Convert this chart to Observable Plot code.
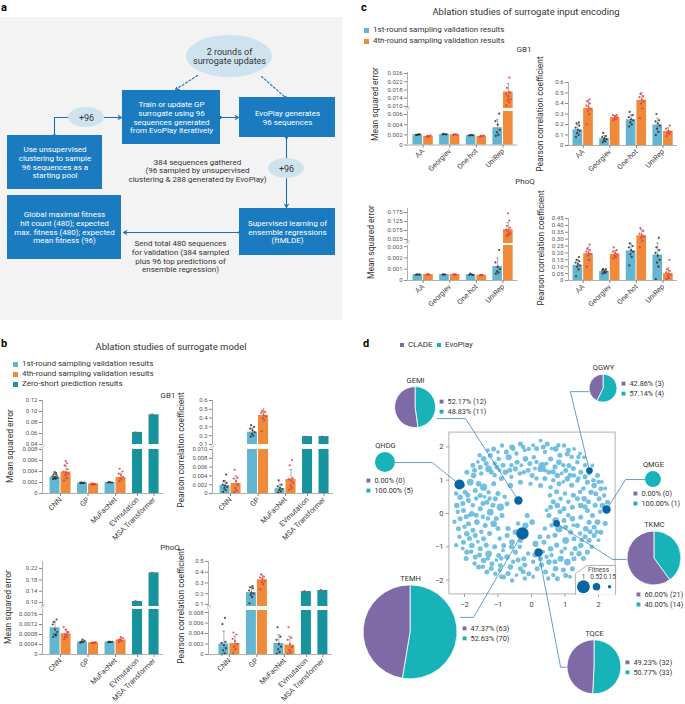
<!DOCTYPE html>
<html><head><meta charset="utf-8">
<script src="https://cdn.jsdelivr.net/npm/d3@7"></script>
<script src="https://cdn.jsdelivr.net/npm/@observablehq/plot@0.6"></script>
<style>
body{margin:0;background:#fff;font-family:Roboto,Inter,"Noto Sans",sans-serif}
#fig{position:relative;width:685px;height:704px;overflow:hidden;background:#fff}
</style></head><body><div id="fig"></div>
<script>
// ================= DATA =================
const C1 = "#62b6d1", C4 = "#ef8a3a", CZ = "#17939d";
const DOT1 = "#2e2e2e", DOT4 = "#ee3440";
const PURPLE = "#7d6aa6", TEAL = "#17b3b8";

// ---- panel b
const bCats = ["CNN","GP","MuFacNet","EVmutation","MSA Transformer"];
const bKinds = ["pair","pair","pair","single","single"];
const bLegend = ["1st-round sampling validation results","4th-round sampling validation results","Zero-short prediction results"];

const bGb1MseR1 = [0.0030,0.0019,0.0020,null,null];
const bGb1MseR4 = [0.0039,0.0017,0.0029,null,null];
const bGb1MseZS = [null,null,null,0.062,0.094];
const bGb1MseD1 = [[0.0026,0.0027,0.0028,0.0029,0.0030,0.0031,0.0033,0.0035,0.0037,0.0039],[0.0019,0.0019,0.0020,0.0020,0.0019,0.0020],[0.0020,0.0020,0.0021,0.0020],[],[]];
const bGb1MseD4 = [[0.0024,0.0028,0.0033,0.0036,0.0038,0.0040,0.0044,0.0051,0.0055,0.0059],[0.0016,0.0017,0.0018,0.0017,0.0016,0.0018],[0.0023,0.0025,0.0028,0.0030,0.0033,0.0036,0.0040,0.0045],[],[]];
const bGb1MseDZ = [[],[],[],[0.062],[0.095]];

const bGb1PccR1 = [0.0018,0.24,0.0011,null,null];
const bGb1PccR4 = [0.0023,0.43,0.0032,null,null];
const bGb1PccZS = [null,null,null,0.19,0.19];
const bGb1PccD1 = [[0.0004,0.0008,0.0012,0.0015,0.0018,0.0020,0.0024,0.0028,0.0043],[0.19,0.20,0.22,0.24,0.26,0.28,0.30,0.32],[0.0002,0.0005,0.0008,0.0010,0.0013,0.0016,0.0020,0.0030],[],[]];
const bGb1PccD4 = [[0.0003,0.0006,0.0012,0.0020,0.0028,0.0034,0.0036,0.0054],[0.25,0.38,0.40,0.42,0.44,0.46,0.47,0.48],[0.0009,0.0013,0.0018,0.0025,0.0030,0.0033,0.0035,0.0064,0.0076],[],[]];
const bGb1PccDZ = [[],[],[],[0.19],[0.19]];

const bPhoqMseR1 = [0.00107,0.00050,0.00050,null,null];
const bPhoqMseR4 = [0.00083,0.00047,0.00058,null,null];
const bPhoqMseZS = [null,null,null,0.104,0.205];
const bPhoqMseD1 = [[0.0007,0.00075,0.0008,0.0009,0.0010,0.0012,0.0014,0.0013,0.0008],[0.00048,0.0005,0.00052,0.00055,0.0006,0.00049],[0.00049,0.0005,0.00052,0.00051,0.0005],[],[]];
const bPhoqMseD4 = [[0.0006,0.0007,0.0008,0.0009,0.0010,0.0011,0.0009,0.0007,0.0008],[0.00045,0.00047,0.00048,0.0005,0.00046],[0.0005,0.00055,0.0006,0.00065,0.0007,0.00058],[],[]];
const bPhoqMseDZ = [[],[],[],[0.105],[0.206]];

const bPhoqPccR1 = [0.0020,0.21,0.0021,null,null];
const bPhoqPccR4 = [0.0021,0.33,0.0018,null,null];
const bPhoqPccZS = [null,null,null,0.22,0.23];
const bPhoqPccD1 = [[0.0000,0.0002,0.0008,0.0012,0.0018,0.0022,0.0024,0.0058,0.0070],[0.11,0.17,0.19,0.20,0.21,0.23,0.25,0.26,0.27],[0.0001,0.0005,0.0010,0.0015,0.0020,0.0028,0.0034,0.0052],[],[]];
const bPhoqPccD4 = [[0.0002,0.0010,0.0015,0.0020,0.0025,0.0030,0.0038,0.0042],[0.24,0.29,0.31,0.32,0.34,0.35,0.36,0.38],[0.0001,0.0004,0.0008,0.0014,0.0020,0.0028,0.0032,0.0052],[],[]];
const bPhoqPccDZ = [[],[],[],[0.225],[0.235]];

// ---- panel c
const cCats = ["AA","Georgiev","One-hot","UniRep"];
const cKinds = ["pair","pair","pair","pair"];
const cLegend = ["1st-round sampling validation results","4th-round sampling validation results"];

const cGb1MseR1 = [0.0020,0.0021,0.0019,0.0034];
const cGb1MseR4 = [0.0017,0.0020,0.0017,0.0170];
const cGb1MseD1 = [[0.0020,0.0021,0.0020,0.0021,0.0020],[0.0021,0.0021,0.0022,0.0021],[0.0019,0.0020,0.0019,0.0019],[0.0018,0.0020,0.0025,0.0030,0.0040,0.0047,0.0062]];
const cGb1MseD4 = [[0.0016,0.0017,0.0018,0.0019,0.0017],[0.0020,0.0021,0.0021,0.0020],[0.0016,0.0017,0.0018,0.0019],[0.0105,0.012,0.013,0.0135,0.015,0.016,0.017,0.019,0.024]];

const cGb1PccR1 = [0.15,0.065,0.245,0.195];
const cGb1PccR4 = [0.355,0.265,0.43,0.135];
const cGb1PccD1 = [[0.08,0.10,0.12,0.14,0.15,0.17,0.19,0.21,0.22],[0.03,0.04,0.05,0.06,0.07,0.08,0.09,0.12],[0.18,0.20,0.22,0.24,0.25,0.27,0.29,0.32],[0.10,0.13,0.16,0.19,0.21,0.23,0.24,0.30]];
const cGb1PccD4 = [[0.20,0.30,0.33,0.35,0.37,0.38,0.40,0.42,0.44],[0.24,0.25,0.26,0.27,0.28,0.29,0.29],[0.26,0.35,0.40,0.42,0.44,0.46,0.47,0.49],[0.09,0.11,0.12,0.13,0.14,0.16,0.19]];

const cPhoqMseR1 = [0.00052,0.00053,0.00051,0.00125];
const cPhoqMseR4 = [0.00052,0.00053,0.00047,0.080];
const cPhoqMseD1 = [[0.0005,0.00052,0.00055,0.00053],[0.00052,0.00053,0.00055],[0.0005,0.00052,0.0006,0.00049],[0.0006,0.0007,0.0008,0.0010,0.0012,0.0016,0.0027]];
const cPhoqMseD4 = [[0.0005,0.00053,0.00056],[0.00052,0.00054,0.00055],[0.00045,0.00048,0.0005],[0.045,0.05,0.055,0.06,0.07,0.08,0.09,0.10,0.13,0.17]];

const cPhoqPccR1 = [0.11,0.065,0.215,0.185];
const cPhoqPccR4 = [0.195,0.19,0.325,0.05];
const cPhoqPccD1 = [[0.03,0.08,0.10,0.11,0.12,0.13,0.14,0.15,0.17],[0.05,0.055,0.06,0.065,0.07,0.075,0.08,0.085],[0.11,0.17,0.19,0.21,0.22,0.24,0.25,0.27],[0.01,0.10,0.13,0.15,0.18,0.20,0.22,0.24,0.31]];
const cPhoqPccD4 = [[0.10,0.15,0.18,0.19,0.20,0.21,0.22,0.23,0.26],[0.16,0.17,0.18,0.19,0.20,0.21,0.22,0.24],[0.24,0.29,0.31,0.32,0.33,0.34,0.36,0.38],[0.01,0.02,0.03,0.04,0.05,0.06,0.07,0.08,0.15]];

// ---- panel d
const pieNames = ["GEMI","QGWY","QHDG","QMGE","TKMC","TEMH","TQCE"];
const cladeCounts = [12,3,0,0,21,63,32];
const evoCounts = [11,4,5,1,14,70,33];
const cladePct = ["52.17","42.86","0.00","0.00","60.00","47.37","49.23"];
const evoPct = ["48.83","57.14","100.00","100.00","40.00","52.63","50.77"];
const hiX = [-0.39,1.73,-2.15,2.24,0.75,-0.27,0.21];
const hiY = [0.39,1.29,0.87,0.12,-0.30,-0.60,-1.17];
const hiFit = [0.6,0.45,0.75,0.6,0.45,0.95,0.6];
const fitLegendVals = [1,0.52,0.15];
const dTicks = [-2,-1,0,1,2];
const scatterPts = [
[-1.13,1.94,.3],[-0.88,2.04,.25],[-0.58,1.99,.35],[-0.33,2.09,.3],[-0.08,1.94,.25],[0.27,2.19,.2],[0.47,2.09,.3],[0.72,1.94,.35],[0.97,2.04,.25],[1.07,1.79,.3],[1.27,1.94,.2],
[-1.43,1.64,.35],[-1.23,1.74,.3],[-0.98,1.64,.25],[-0.68,1.69,.4],[-0.43,1.54,.3],[-0.18,1.64,.35],[0.07,1.69,.25],[0.32,1.44,.5],[0.57,1.64,.3],[0.82,1.54,.35],[1.12,1.44,.3],[1.37,1.54,.25],[1.57,1.69,.2],
[-1.53,1.39,.3],[-1.28,1.34,.45],[-1.03,1.39,.3],[-0.78,1.24,.35],[-0.48,1.34,.3],[-0.23,1.24,.25],[0.02,1.14,.3],[0.27,1.34,.4],[0.52,1.24,.3],[0.77,1.14,.35],[1.02,1.29,.3],[1.27,1.14,.25],[1.47,1.24,.3],[1.82,1.44,.2],[1.97,1.14,.3],
[-0.33,0.94,.3],[-0.03,0.89,.25],[0.27,0.84,.3],[0.57,0.79,.25],[0.82,0.89,.3],[1.07,1.04,.35],[1.37,0.99,.25],[1.67,0.94,.3],[1.87,0.84,.35],[2.07,0.74,.3],[2.17,0.54,.25],[2.02,0.44,.3],[2.27,0.34,.3],[2.12,0.24,.35],
[-1.93,1.24,.3],[-1.73,1.14,.35],[-1.83,0.94,.45],[-1.58,0.89,.35],[-1.43,0.79,.5],[-1.68,0.69,.3],[-1.98,0.64,.3],[-2.13,0.49,.35],[-1.88,0.39,.3],[-1.53,0.54,.3],[-1.28,0.64,.25],[-1.08,0.44,.3],[-1.33,0.34,.3],
[-2.23,0.24,.35],[-2.03,0.09,.3],[-1.78,-0.01,.35],[-1.53,0.14,.3],[-1.23,0.04,.45],[-0.93,0.19,.5],[-0.73,0.29,.3],[-0.88,-0.06,.3],[-2.13,-0.16,.3],[-1.88,-0.31,.3],[-1.63,-0.26,.35],[-1.38,-0.36,.3],[-1.13,-0.31,.45],
[-2.18,-0.46,.3],[-1.93,-0.61,.35],[-1.68,-0.66,.3],[-1.43,-0.76,.3],[-2.03,-0.86,.3],[-1.78,-0.96,.35],[-1.53,-1.06,.3],[-1.28,-1.21,.45],[-1.93,-1.16,.3],[-1.68,-1.31,.3],[-1.43,-1.41,.35],[-1.18,-1.51,.3],
[-1.58,-1.61,.3],[-1.33,-1.76,.3],[-1.08,-1.81,.25],[-0.83,-1.91,.3],[-0.58,-2.01,.25],[-0.63,0.84,.35],[-1.13,0.89,.3],
[-0.73,-0.66,.3],[-0.48,-0.56,.35],[-0.18,-0.36,.4],[0.02,-0.26,.35],[-0.13,-0.06,.3],[-0.83,-0.96,.3],[-0.58,-0.86,.35],[-0.33,-0.81,.3],[-0.98,-1.26,.3],[-0.73,-1.31,.35],[-0.48,-1.16,.3],[-0.23,-1.36,.3],
[-0.93,-1.56,.3],[-0.63,-1.61,.35],[-0.33,-1.66,.3],[-0.08,-1.81,.3],[0.12,-0.91,.4],[0.37,-0.86,.3],[0.57,-1.06,.35],[0.27,-1.36,.3],[0.52,-1.46,.35],[0.17,-1.66,.3],[0.42,-1.76,.3],[0.72,-1.66,.35],[0.87,-1.36,.4],
[0.77,-1.96,.3],[1.02,-1.86,.3],[1.22,-1.66,.3],[1.07,-1.46,.45],[1.27,-1.36,.3],[1.42,-1.21,.35],[1.67,-1.16,.3],[1.47,-0.96,.35],[1.72,-0.81,.3],[1.87,-0.66,.3],[1.27,-0.76,.3],[1.02,-0.81,.45],[1.17,-0.56,.3],
[0.57,0.19,.3],[0.77,0.24,.35],[0.97,0.14,.3],[1.22,0.19,.3],[1.47,0.24,.35],[1.67,0.09,.3],[1.82,-0.06,.3],[1.97,-0.26,.35],[1.72,-0.26,.3],[1.47,-0.11,.3],[1.22,-0.16,.35],[0.97,-0.21,.3],[0.72,-0.21,.45],
[0.52,-0.06,.3],[1.37,-0.36,.3],[1.62,-0.46,.35],[1.87,-0.41,.3],[2.07,-0.56,.3],[0.82,-0.46,.5],[1.02,-0.41,.3],[1.37,0.44,.3],[1.57,0.44,.35],[1.77,0.64,.3],[1.92,0.59,.3],[0.87,0.44,.25],
[-1.0,1.85,.2],[-0.75,1.85,.3],[-0.45,1.8,.25],[-0.2,1.9,.2],[0.15,1.95,.3],[0.4,1.85,.25],[0.6,1.95,.2],[0.85,1.75,.3],[1.2,1.7,.25],[1.45,1.8,.2],[-1.6,1.55,.2],[-1.35,1.5,.3],[-1.1,1.5,.25],[-0.85,1.45,.3],
[-0.6,1.45,.25],[-0.3,1.45,.2],[-0.05,1.5,.3],[0.15,1.55,.25],[0.45,1.5,.2],[0.7,1.4,.3],[0.95,1.45,.25],[1.25,1.35,.3],[1.6,1.45,.25],[1.72,1.2,.2],[-1.7,1.3,.3],[-1.1,1.15,.25],[-0.9,1.05,.3],[-0.6,1.1,.25],
[0.15,1.05,.25],[0.4,1.05,.3],[0.65,1.0,.25],[0.95,0.95,.2],[1.2,0.85,.3],[1.55,0.75,.25],[1.8,0.65,.2],[2.0,0.95,.25],[2.2,0.75,.2],[-2.05,0.85,.25],[-1.9,0.55,.3],[-1.65,0.45,.25],[-1.4,0.5,.2],[-1.15,0.25,.3],
[-2.2,0.05,.25],[-1.95,-0.1,.3],[-1.45,-0.1,.25],[-1.05,-0.15,.3],[-2.0,-0.4,.25],[-1.75,-0.5,.3],[-1.5,-0.55,.25],[-1.25,-0.6,.3],[-2.15,-0.7,.25],[-1.85,-0.75,.3],[-1.6,-0.85,.2],[-1.35,-0.95,.3],[-2.05,-1.05,.2],
[-1.8,-1.15,.25],[-1.55,-1.25,.3],[-1.3,-1.35,.25],[-1.05,-1.4,.2],[-1.45,-1.6,.25],[-1.2,-1.65,.3],[-0.95,-1.7,.25],[-0.7,-1.8,.3],[-0.45,-1.85,.2],[-0.2,-1.95,.25],[0.05,-1.9,.2],[-0.6,-1.0,.3],[-0.35,-1.0,.25],
[-0.85,-1.1,.2],[-0.55,-1.45,.25],[-0.2,-1.55,.3],[0.05,-1.45,.25],[0.3,-1.55,.3],[0.6,-1.25,.25],[0.35,-1.15,.2],[0.65,-1.85,.25],[0.95,-1.7,.3],[1.15,-1.9,.2],[1.55,-1.35,.3],[1.8,-1.0,.25],[1.6,-0.7,.3],
[1.45,-0.6,.25],[2.0,-0.8,.2],[1.9,0.25,.3],[2.05,0.05,.25],[1.6,0.2,.3],[1.1,0.35,.25],[0.65,0.35,.3],[0.45,0.1,.2],[1.1,-0.05,.25],[0.85,0.05,.3],[0.6,-0.35,.25],[1.25,-0.35,.2],
[-1.75,1.45,.3],[-1.5,1.2,.25],[-1.2,1.25,.3],[-0.95,1.3,.2],[-0.65,1.3,.3],[-0.35,1.2,.25],[-0.1,1.3,.3],[0.1,1.35,.2],[0.4,1.3,.25],[0.65,1.25,.3],[0.9,1.2,.2],[1.15,1.15,.3],[1.4,1.05,.25],[1.6,1.1,.3],
[1.85,1.0,.25],[2.1,0.95,.2],[-0.55,1.95,.3],[-0.25,2.0,.25],[0.05,2.05,.2],[0.35,2.0,.3],[0.8,2.05,.25],[1.1,1.9,.3],[1.4,1.7,.25],[-1.3,1.9,.2],[-1.55,1.75,.25],
[-2.25,0.6,.25],[-2.05,0.3,.3],[-1.75,0.25,.25],[-1.45,0.3,.3],[-1.25,0.45,.25],[-1.0,0.6,.3],[-0.8,0.5,.25],[-2.3,-0.25,.25],[-1.65,-0.05,.3],[-1.3,-0.15,.25],[-1.0,-0.45,.3],[-2.25,-0.95,.25],[-1.95,-1.35,.3],
[-1.7,-1.5,.25],[-1.85,-0.05,.2],[-0.95,-0.75,.25],[-0.7,-0.45,.3],[-0.4,-0.3,.25],[-1.1,-1.0,.3],[-0.9,-1.35,.25],[-0.4,-1.4,.3],[-0.1,-1.2,.25],[0.1,-1.25,.3],[0.45,-1.3,.25],[0.25,-0.7,.3],[0.5,-0.7,.25],
[0.75,-0.95,.3],[0.9,-1.15,.25],[0.7,-1.45,.3],[0.5,-1.95,.25],[-0.25,-1.75,.3],[-0.9,-1.9,.25],[0.55,0.55,.25],[0.75,0.65,.3],[1.0,0.6,.25],[1.25,0.55,.3],[1.45,0.65,.25],[1.7,0.35,.3],[2.25,0.1,.25],
[2.2,-0.3,.3],[1.95,-0.55,.25],[1.75,-0.55,.3],[1.5,-0.8,.25],[1.3,-1.05,.3],[1.2,-1.2,.25],[1.0,-1.05,.2],[0.7,-0.65,.3],[0.4,-0.45,.25]
];

// ---- panel a text
const flowBoxes = [
 {x1:122,y1:90,x2:220,y2:144,text:"Train or update GP\nsurrogate using 96\nsequences generated\nfrom EvoPlay iteratively"},
 {x1:239,y1:97,x2:335,y2:137,text:"EvoPlay generates\n96 sequences"},
 {x1:7,y1:135,x2:102,y2:189,text:"Use unsupervised\nclustering to sample\n96 sequences as a\nstarting pool"},
 {x1:7,y1:195,x2:121,y2:259,text:"Global maximal fitness\nhit count (480); expected\nmax. fitness (480); expected\nmean fitness (96)"},
 {x1:239,y1:208,x2:335,y2:255,text:"Supervised learning of\nensemble regressions\n(ftMLDE)"}
];
const flowEllipses = [
 {cx:229,cy:56,rx:43,ry:21,text:"2 rounds of\nsurrogate updates"},
 {cx:86,cy:117,rx:18,ry:10,text:"+96"},
 {cx:286,cy:168,rx:18,ry:10,text:"+96"}
];
const flowNotes = [
 {x:197,y:170,text:"384 sequences gathered\n(96 sampled by unsupervised\nclustering & 288 generated by EvoPlay)"},
 {x:180,y:256,text:"Send total 480 sequences\nfor validation (384 sampled\nplus 96 top predictions of\nensemble regression)"}
];

// ================= HELPERS =================
const FONT = "Roboto, Inter, 'Noto Sans', 'DejaVu Sans', sans-serif";
const fig = document.getElementById("fig");
function place(el, left, top){ el.style.position="absolute"; el.style.left=left+"px"; el.style.top=top+"px"; fig.appendChild(el); return el; }
function label(text, x, y, o={}){
  const d=document.createElement("div"); d.textContent=text;
  Object.assign(d.style,{position:"absolute",left:x+"px",top:y+"px",fontSize:(o.size||8)+"px",color:o.color||"#333",
    fontWeight:o.weight||400,whiteSpace:"nowrap",lineHeight:"1",fontFamily:FONT});
  let t = o.anchor==="middle" ? "translate(-50%,-50%)" : "translate(0,-50%)";
  if(o.rotate) t = "translate(-50%,-50%) rotate(-90deg)";
  d.style.transform=t; fig.appendChild(d); return d;
}
function swatch(x,y,color,s=5){ const d=document.createElement("div"); Object.assign(d.style,{position:"absolute",left:(x-s/2)+"px",top:(y-s/2)+"px",width:s+"px",height:s+"px",background:color}); fig.appendChild(d); }

const JIT = [-0.25,0.1,-0.1,0.28,0.0,-0.3,0.2,-0.18,0.14,-0.05,0.3,-0.12];
const HAS_AXIS_MARKS = typeof Plot.axisX === "function";

function buildSlots(kinds){
  let s=0; const slots=[], centers=[];
  kinds.forEach((k,i)=>{
    if(k==="pair"){ slots.push({i,ser:"r1",x1:s,x2:s+1}); slots.push({i,ser:"r4",x1:s+1,x2:s+2}); centers.push(s+1); s+=2.5; }
    else { slots.push({i,ser:"zs",x1:s,x2:s+1}); centers.push(s+0.5); s+=1.5; }
  });
  return {slots, centers};
}

function drawChart(spec){
  const {slots, centers} = buildSlots(spec.kinds);
  const series={r1:spec.r1,r4:spec.r4,zs:spec.zs||[]};
  const dser={r1:spec.d1,r4:spec.d4,zs:spec.dz||[]};
  const fills={r1:C1,r4:C4,zs:CZ}, dfills={r1:DOT1,r4:DOT4,zs:DOT4};
  const bars = slots.map(s=>({...s,v:series[s.ser][s.i],fill:fills[s.ser]})).filter(b=>b.v!=null);
  const dots=[], errs=[];
  bars.forEach(b=>{
    const ds=dser[b.ser][b.i]||[]; const xc=(b.x1+b.x2)/2;
    ds.forEach((v,j)=>dots.push({x:xc+JIT[j%JIT.length]*0.7,v,fill:dfills[b.ser]}));
    if(ds.length>2){ const sd=d3.deviation(ds); errs.push({x:xc,lo:b.v-sd,hi:b.v+sd}); }
  });
  const mL=38,mR=6,mT=4;
  const innerW=(spec.xDomain[1]-spec.xDomain[0])*spec.unit;
  const xFmt=d=>spec.labels[centers.findIndex(c=>Math.abs(c-d)<1e-6)];
  spec.segs.forEach((seg,k)=>{
    const lower = k===spec.segs.length-1;
    const mB = lower?80:2;
    const [d0,d1]=seg.domain;
    const cl=v=>Math.max(d0,Math.min(d1,v));
    const sb=bars.filter(b=>b.v>d0).map(b=>({...b,y1:d0,y2:cl(b.v)}));
    const se=errs.filter(e=>e.hi>d0&&e.lo<d1).map(e=>({...e,y1:cl(e.lo),y2:cl(e.hi)}));
    const caps=[]; se.forEach(e=>{ if(e.lo>=d0) caps.push({x:e.x,y:e.lo}); if(e.hi<=d1) caps.push({x:e.x,y:e.hi}); });
    const sd=dots.filter(d=>d.v>=d0&&d.v<=d1);
    const fmt=d=>d===0?"0":d.toFixed(seg.dec);
    const innerH=seg.py[0]-seg.py[1];
    const axisMarks = HAS_AXIS_MARKS ? [
      Plot.axisY({ticks:seg.ticks,tickFormat:fmt,tickSize:3,tickPadding:2,label:null,fontSize:6,stroke:"#888",fill:"#555"}),
      lower ? Plot.axisX({ticks:centers,tickFormat:xFmt,tickRotate:-45,tickSize:3,tickPadding:2,label:null,fontSize:7.3,stroke:"#888",fill:"#444"}) : null
    ] : [];
    const svg=Plot.plot({
      width:mL+innerW+mR, height:mT+innerH+mB,
      marginLeft:mL,marginRight:mR,marginTop:mT,marginBottom:mB,
      style:{background:"transparent",fontFamily:FONT,fontSize:"6.5px",color:"#555",overflow:"visible"},
      color:{type:"identity"},
      x: HAS_AXIS_MARKS ? {domain:spec.xDomain,axis:null} :
         {domain:spec.xDomain,axis:lower?"bottom":null,ticks:centers,tickFormat:xFmt,tickRotate:-45,tickSize:3,label:null},
      y: HAS_AXIS_MARKS ? {domain:seg.domain,axis:null} :
         {domain:seg.domain,ticks:seg.ticks,tickFormat:fmt,tickSize:3,tickPadding:2,label:null},
      marks:[
        Plot.rect(sb,{x1:"x1",x2:"x2",y1:"y1",y2:"y2",fill:"fill",insetLeft:0.5,insetRight:0.5}),
        Plot.ruleX(se,{x:"x",y1:"y1",y2:"y2",stroke:"#8a8a8a",strokeWidth:0.7}),
        Plot.ruleY(caps,{y:"y",x1:d=>d.x-0.12,x2:d=>d.x+0.12,stroke:"#8a8a8a",strokeWidth:0.7}),
        Plot.dot(sd,{x:"x",y:"v",r:1.1,fill:"fill",fillOpacity:0.85}),
        Plot.ruleX([spec.xDomain[0]],{stroke:"#9a9a9a",strokeWidth:0.8}),
        lower?Plot.ruleY([d0],{stroke:"#9a9a9a",strokeWidth:0.8}):null,
        (lower&&spec.segs.length>1)?Plot.text([d1],{x:()=>spec.xDomain[0],y:d=>d,text:()=>"//",dy:-3,fontSize:6,fill:"#888"}):null,
        ...axisMarks
      ]
    });
    place(svg, spec.axisX-mL, seg.py[1]-mT);
  });
  label(spec.ylabel, spec.yl[0], spec.yl[1], {rotate:true, size:8.5, color:"#333"});
}

// ================= PANEL A =================
label("a", 1, 7, {size:11, weight:700, color:"#000"});
function ellipseMark(index, scales){
  const g=d3.create("svg:g");
  flowEllipses.forEach(e=>{
    g.append("ellipse").attr("cx",scales.x(e.cx)).attr("cy",scales.y(e.cy))
     .attr("rx",Math.abs(scales.x(e.cx+e.rx)-scales.x(e.cx))).attr("ry",Math.abs(scales.y(e.cy+e.ry)-scales.y(e.cy)))
     .attr("fill","#cfe3ef");
  });
  return g.node();
}
const AR="#1f6fae";
const svgA = Plot.plot({
  width:343,height:322,margin:0,
  style:{background:"transparent",fontFamily:FONT},
  x:{domain:[0,343],range:[0,343],axis:null},
  y:{domain:[0,322],range:[0,322],axis:null},
  marks:[
    Plot.rect([[0,17,342,320]],{x1:d=>d[0],y1:d=>d[1],x2:d=>d[2],y2:d=>d[3],fill:"#f3f3f3"}),
    Plot.line([[54,135],[54,117],[68,117]],{x:d=>d[0],y:d=>d[1],stroke:AR,strokeWidth:1.1}),
    Plot.arrow([[104,117,121,117],[220,117,238,117],[286,178,286,207],[239,232,123,232]],{x1:d=>d[0],y1:d=>d[1],x2:d=>d[2],y2:d=>d[3],stroke:AR,strokeWidth:1.1,headLength:5}),
    Plot.line([[286,137],[286,158]],{x:d=>d[0],y:d=>d[1],stroke:AR,strokeWidth:1.1}),
    Plot.arrow([[197,75,175,89]],{x1:d=>d[0],y1:d=>d[1],x2:d=>d[2],y2:d=>d[3],stroke:AR,strokeWidth:1.1,strokeDasharray:"2,2",headLength:5}),
    Plot.line([[261,76],[285,97]],{x:d=>d[0],y:d=>d[1],stroke:AR,strokeWidth:1.1,strokeDasharray:"2,2"}),
    Plot.dot([[54,135],[220,117],[286,137],[239,232],[285,97]],{x:d=>d[0],y:d=>d[1],r:1.4,fill:AR}),
    ellipseMark,
    Plot.rect(flowBoxes,{x1:"x1",y1:"y1",x2:"x2",y2:"y2",fill:"#1b7bc0"}),
    Plot.text(flowBoxes,{x:d=>(d.x1+d.x2)/2,y:d=>(d.y1+d.y2)/2,text:"text",fill:"white",fontSize:8,lineHeight:1.08}),
    Plot.text(flowEllipses,{x:"cx",y:"cy",text:"text",fill:"#333",fontSize:9,lineHeight:1.05}),
    Plot.text(flowNotes,{x:"x",y:"y",text:"text",fill:"#333",fontSize:8,lineHeight:1.08})
  ]
});
place(svgA,0,0);

// ================= PANEL B =================
label("b", 1, 343, {size:11, weight:700, color:"#000"});
label("Ablation studies of surrogate model", 171, 347, {anchor:"middle", size:9.5, color:"#333"});
[C1,C4,CZ].forEach((c,i)=>{ swatch(15, 364+i*10, c); label(bLegend[i], 22, 364+i*10, {size:8, color:"#333"}); });
label("GB1", 168, 396, {anchor:"middle", size:8, color:"#333"});
label("PhoQ", 170, 548, {anchor:"middle", size:8, color:"#333"});

const bCommon = {labels:bCats, kinds:bKinds, unit:11};
drawChart({...bCommon, r1:bGb1MseR1, r4:bGb1MseR4, zs:bGb1MseZS, d1:bGb1MseD1, d4:bGb1MseD4, dz:bGb1MseDZ,
  axisX:42, xDomain:[-0.64,10.36], ylabel:"Mean squared error", yl:[10,446],
  segs:[{domain:[0.04,0.12],py:[444,400],ticks:[0.04,0.06,0.08,0.10,0.12],dec:2},
        {domain:[0,0.008],py:[493,449],ticks:[0,0.002,0.004,0.006,0.008],dec:3}]});
drawChart({...bCommon, r1:bGb1PccR1, r4:bGb1PccR4, zs:bGb1PccZS, d1:bGb1PccD1, d4:bGb1PccD4, dz:bGb1PccDZ,
  axisX:212, xDomain:[-0.64,10.36], ylabel:"Pearson correlation coefficient", yl:[181,450],
  segs:[{domain:[0.1,0.6],py:[444,400],ticks:[0.1,0.2,0.3,0.4,0.5,0.6],dec:1},
        {domain:[0,0.010],py:[493,449],ticks:[0,0.002,0.004,0.006,0.008,0.010],dec:3}]});
drawChart({...bCommon, r1:bPhoqMseR1, r4:bPhoqMseR4, zs:bPhoqMseZS, d1:bPhoqMseD1, d4:bPhoqMseD4, dz:bPhoqMseDZ,
  axisX:42, xDomain:[-0.64,10.36], ylabel:"Mean squared error", yl:[8,607],
  segs:[{domain:[0.086,0.245],py:[606,561],ticks:[0.10,0.14,0.18,0.22],dec:2},
        {domain:[0,0.0018],py:[654,609],ticks:[0,0.0004,0.0008,0.0012,0.0016],dec:4}]});
drawChart({...bCommon, r1:bPhoqPccR1, r4:bPhoqPccR4, zs:bPhoqPccZS, d1:bPhoqPccD1, d4:bPhoqPccD4, dz:bPhoqPccDZ,
  axisX:208, xDomain:[-0.9,10.36], ylabel:"Pearson correlation coefficient", yl:[181,606],
  segs:[{domain:[0.081,0.5],py:[606,561],ticks:[0.1,0.2,0.3,0.4,0.5],dec:1},
        {domain:[0,0.0084],py:[654,610],ticks:[0,0.002,0.004,0.006,0.008],dec:3}]});

// ================= PANEL C =================
label("c", 361, 7, {size:11, weight:700, color:"#000"});
label("Ablation studies of surrogate input encoding", 526, 12, {anchor:"middle", size:9.5, color:"#333"});
[C1,C4].forEach((c,i)=>{ swatch(366, 30+i*11, c); label(cLegend[i], 373, 30+i*11, {size:8, color:"#333"}); });
label("GB1", 524, 50, {anchor:"middle", size:8, color:"#333"});
label("PhoQ", 525, 182, {anchor:"middle", size:8, color:"#333"});
const cCommon = {labels:cCats, kinds:cKinds, unit:10.65};
drawChart({...cCommon, r1:cGb1MseR1, r4:cGb1MseR4, d1:cGb1MseD1, d4:cGb1MseD4,
  axisX:407, xDomain:[-0.47,9.9], ylabel:"Mean squared error", yl:[375,104],
  segs:[{domain:[0.009,0.0265],py:[108,72],ticks:[0.010,0.014,0.018,0.022,0.026],dec:3},
        {domain:[0,0.0066],py:[144.5,111],ticks:[0,0.002,0.004,0.006],dec:3}]});
drawChart({...cCommon, r1:cGb1PccR1, r4:cGb1PccR4, d1:cGb1PccD1, d4:cGb1PccD4,
  axisX:568, xDomain:[-0.38,9.85], ylabel:"Pearson correlation coefficient", yl:[540,114],
  segs:[{domain:[0,0.6],py:[145,82],ticks:[0,0.1,0.2,0.3,0.4,0.5,0.6],dec:1}]});
drawChart({...cCommon, r1:cPhoqMseR1, r4:cPhoqMseR4, d1:cPhoqMseD1, d4:cPhoqMseD4,
  axisX:407, xDomain:[-0.47,9.9], ylabel:"Mean squared error", yl:[371,242],
  segs:[{domain:[0.003,0.197],py:[243,208],ticks:[0.025,0.075,0.125,0.175],dec:3},
        {domain:[0,0.0031],py:[280,245],ticks:[0,0.001,0.002,0.003],dec:3}]});
drawChart({...cCommon, r1:cPhoqPccR1, r4:cPhoqPccR4, d1:cPhoqPccD1, d4:cPhoqPccD4,
  axisX:568, xDomain:[-0.38,9.85], ylabel:"Pearson correlation coefficient", yl:[541,248],
  segs:[{domain:[0,0.45],py:[280,218],ticks:[0,0.05,0.10,0.15,0.20,0.25,0.30,0.35,0.40,0.45],dec:2}]});

// ================= PANEL D =================
label("d", 363, 343, {size:11, weight:700, color:"#000"});
swatch(402,345,PURPLE,4.5); label("CLADE",408,345,{size:8,color:"#333"});
swatch(439,345,TEAL,4.5); label("EvoPlay",445,345,{size:8,color:"#333"});

const DW=345, DH=384;
const dXd=[-5.701,4.597], dYd=[-5.736,5.796];
const UX=DW/(dXd[1]-dXd[0]), UY=DH/(dYd[1]-dYd[0]);
const frame={x1:-2.45,x2:2.51,y1:-2.43,y2:2.43};
const pieLayout=[
 {x:-3.46,y:3.18,r:20.5,lx:26,ly:-6},
 {x:2.15,y:3.75,r:14,lx:20,ly:-5},
 {x:-4.36,y:1.53,r:10,lx:-17,ly:18},
 {x:3.64,y:1.02,r:8,lx:-18,ly:14},
 {x:3.67,y:-1.35,r:27,lx:-16,ly:36},
 {x:-3.61,y:-3.57,r:47,lx:54,ly:-4},
 {x:1.88,y:-4.62,r:27,lx:33,ly:-5}
];
const leaderElbows=[
 [[-2.81,2.85],[-1.97,2.85]],
 [[1.73,3.66],[1.16,3.66]],
 [[-4.06,1.53],[-2.96,1.53]],
 [[3.40,1.02],[2.81,1.02]],
 [[2.87,-1.38],[2.42,-1.38]],
 [[-2.12,-3.12],[-1.73,-3.12]],
 [[1.10,-4.62],[0.87,-4.62]]
];
const leaderPts=[]; leaderElbows.forEach((e,i)=>{ e.forEach(p=>leaderPts.push({k:i,x:p[0],y:p[1]})); leaderPts.push({k:i,x:hiX[i],y:hiY[i]}); });
const hiPts=pieNames.map((n,i)=>({x:hiX[i],y:hiY[i],f:hiFit[i]}));
const pts=scatterPts.map(p=>({x:p[0],y:p[1],f:p[2]}));
const pctRows=[]; pieLayout.forEach((p,i)=>{
  pctRows.push({x:p.x+p.lx/UX, y:p.y-p.ly/UY, c:PURPLE, t:`${cladePct[i]}% (${cladeCounts[i]})`});
  pctRows.push({x:p.x+p.lx/UX, y:p.y-(p.ly+10)/UY, c:TEAL, t:`${evoPct[i]}% (${evoCounts[i]})`});
});
const pieTitles=pieLayout.map((p,i)=>({x:p.x,y:p.y+(p.r+7)/UY,t:pieNames[i]}));
function pieMark(index, scales){
  const g=d3.create("svg:g");
  pieLayout.forEach((p,i)=>{
    const arcs=d3.pie().sort(null)([evoCounts[i],cladeCounts[i]]).map((a,j)=>({...a,j})).filter(a=>a.value>0);
    const arc=d3.arc().innerRadius(0).outerRadius(p.r);
    g.append("g").attr("transform",`translate(${scales.x(p.x)},${scales.y(p.y)})`)
     .selectAll("path").data(arcs).join("path").attr("d",arc)
     .attr("fill",d=>d.j===0?TEAL:PURPLE).attr("stroke",arcs.length>1?"white":"none").attr("stroke-width",0.8);
  });
  return g.node();
}
const fitBox=[[1.31,-2.43],[1.31,-1.81],[1.66,-1.56],[2.51,-1.56],[2.51,-2.43]];
const fitX=[1.55,1.94,2.33];
const fmtT=d=>d<0?"\u2212"+Math.abs(d):String(d);
const svgD=Plot.plot({
  width:DW,height:DH,margin:0,
  style:{background:"transparent",fontFamily:FONT,fontSize:"7.5px",color:"#444"},
  x:{domain:dXd,axis:null}, y:{domain:dYd,axis:null},
  r:{type:"linear",domain:[0,1],range:[0.8,6.5]},
  marks:[
    Plot.rect([frame],{x1:"x1",x2:"x2",y1:"y1",y2:"y2",fill:"white",stroke:"#a0a0a0",strokeWidth:0.8}),
    Plot.ruleX(dTicks,{x:d=>d,y1:frame.y1,y2:frame.y1-0.09,stroke:"#a0a0a0"}),
    Plot.text(dTicks,{x:d=>d,y:frame.y1,dy:10,text:fmtT,fill:"#444"}),
    Plot.ruleY(dTicks,{y:d=>d,x1:frame.x1,x2:frame.x1-0.09,stroke:"#a0a0a0"}),
    Plot.text(dTicks,{y:d=>d,x:frame.x1,dx:-6,text:fmtT,textAnchor:"end",fill:"#444"}),
    Plot.dot(pts,{x:"x",y:"y",r:"f",fill:"#6cbde0",fillOpacity:0.95}),
    Plot.line(leaderPts,{x:"x",y:"y",z:"k",stroke:"#3a86bd",strokeWidth:0.8}),
    Plot.dot(hiPts,{x:"x",y:"y",r:"f",fill:"#0b65a5"}),
    Plot.line(fitBox,{x:d=>d[0],y:d=>d[1],fill:"white",stroke:"#a0a0a0",strokeWidth:0.8}),
    Plot.text(["Fitness"],{x:2.0,y:-1.68,text:d=>d,fill:"#444",fontSize:6.5}),
    Plot.text(fitLegendVals,{x:(d,i)=>fitX[i],y:-1.9,text:d=>String(d),fill:"#444",fontSize:6.3}),
    Plot.dot(fitLegendVals,{x:(d,i)=>fitX[i],y:-2.2,r:d=>d,fill:"#0b65a5"}),
    pieMark,
    Plot.text(pieTitles,{x:"x",y:"y",text:"t",fill:"#333",fontSize:7.5}),
    Plot.dot(pctRows,{x:"x",y:"y",symbol:"square",r:2.2,fill:"c"}),
    Plot.text(pctRows,{x:"x",y:"y",text:"t",dx:6,textAnchor:"start",fill:"#333",fontSize:7.3})
  ]
});
place(svgD,340,320);
</script></body></html>
